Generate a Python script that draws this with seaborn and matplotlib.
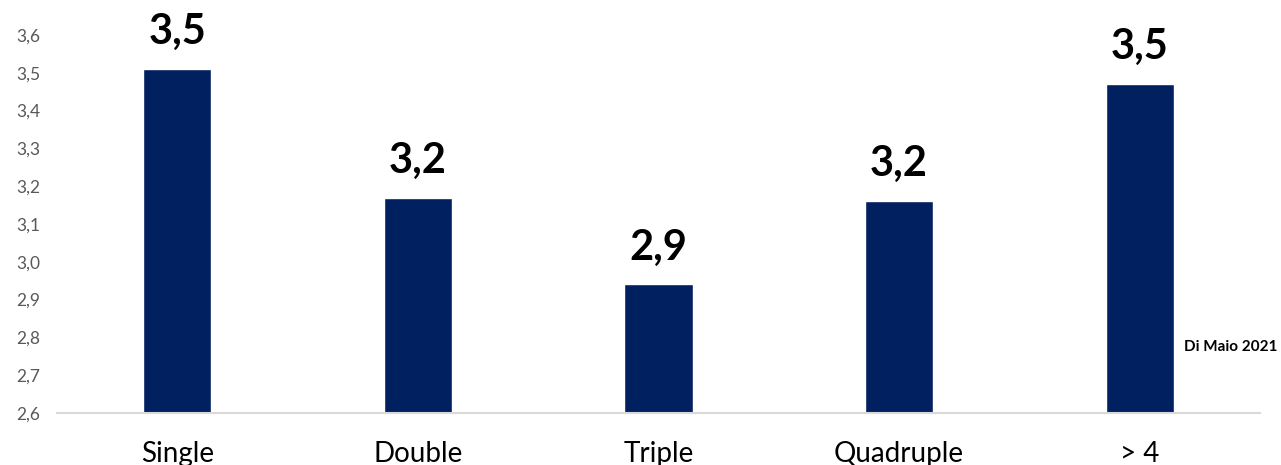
import matplotlib
matplotlib.use("Agg")
import matplotlib.pyplot as plt
import seaborn as sns
import pandas as pd

# Data
categories = ["Single", "Double", "Triple", "Quadruple", "> 4"]
values = [3.51, 3.17, 2.94, 3.16, 3.47]
y_ticks = [2.6, 2.7, 2.8, 2.9, 3.0, 3.1, 3.2, 3.3, 3.4, 3.5, 3.6]
source_note = "Di Maio 2021"

BAR_COLOR = "#002060"
FONT = "Lato"

sns.set_theme(style="white")
plt.rcParams["font.family"] = [FONT, "DejaVu Sans"]

df = pd.DataFrame({"category": categories, "value": values})

fig = plt.figure(figsize=(12.81, 4.65), dpi=100)
ax = fig.add_axes([0.0445, 0.1118, 0.9391, 0.8129])

sns.barplot(data=df, x="category", y="value", order=categories,
            color=BAR_COLOR, saturation=1, width=0.283, ax=ax)

ax.set_ylim(2.6, 3.6)
ax.set_xlim(-0.5, len(categories) - 0.5)
ax.set_yticks(y_ticks)
ax.set_yticklabels([f"{t:.1f}".replace(".", ",") for t in y_ticks],
                   fontsize=12.5, color="#595959")
ax.tick_params(axis="y", length=0, pad=12)
ax.tick_params(axis="x", length=0, pad=20, labelsize=20, labelcolor="black")
for lbl in ax.get_xticklabels():
    lbl.set_fontstretch("expanded")
ax.set_xlabel("")
ax.set_ylabel("")

for side in ["top", "right", "left"]:
    ax.spines[side].set_visible(False)
ax.spines["bottom"].set_color("#d9d9d9")
ax.spines["bottom"].set_linewidth(1.5)

# Value labels above each bar
for i, v in enumerate(values):
    ax.annotate(f"{v:.1f}".replace(".", ","), xy=(i, v), xytext=(0, 25),
                textcoords="offset pixels", ha="center", va="baseline",
                fontsize=30, fontweight="bold", color="black",
                annotation_clip=False)

fig.text(1278 / 1281, 1 - 347 / 465, source_note, ha="right", va="center",
         fontsize=11, fontweight="bold", color="black")

fig.savefig("out.png", dpi=100)
